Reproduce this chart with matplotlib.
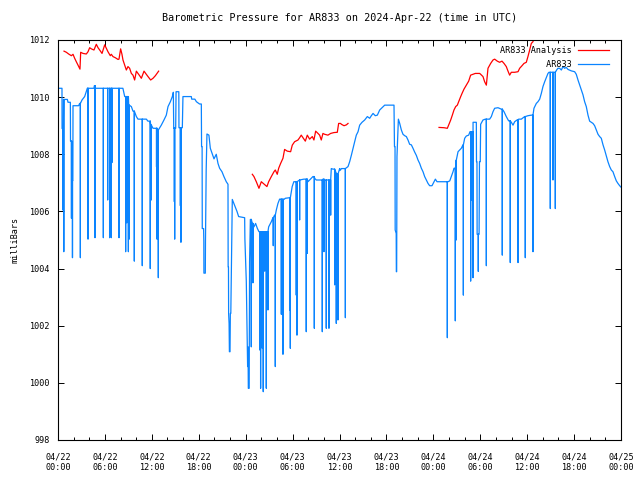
import numpy as np
import matplotlib
matplotlib.use("Agg")
import matplotlib.pyplot as plt

# time axis: hours since 2024-04-22 00:00 UTC
tick_hours = [0, 6, 12, 18, 24, 30, 36, 42, 48, 54, 60, 66, 72]
tick_labels = ["04/22\n00:00", "04/22\n06:00", "04/22\n12:00", "04/22\n18:00",
               "04/23\n00:00", "04/23\n06:00", "04/23\n12:00", "04/23\n18:00",
               "04/24\n00:00", "04/24\n06:00", "04/24\n12:00", "04/24\n18:00",
               "04/25\n00:00"]
y_ticks = [998, 1000, 1002, 1004, 1006, 1008, 1010, 1012]

# AR833 station pressure (hour, mbar) - slowly varying level
station_level = [
    (0.0, 1010.31), (0.51, 1010.31), (0.52, 1008.9), (0.68, 1008.9), (0.7, 1009.92),
    (1.2, 1009.92), (1.28, 1009.82), (1.58, 1009.82), (1.6, 1008.46), (1.75, 1008.46),
    (1.77, 1007.08), (1.9, 1007.08), (1.92, 1009.70), (2.64, 1009.70), (2.77, 1009.78),
    (3.07, 1009.9), (3.41, 1010.02), (3.75, 1010.31), (4.6, 1010.31), (4.65, 1010.40),
    (4.75, 1010.40), (4.8, 1010.31), (8.3, 1010.31), (8.53, 1010.02), (9.04, 1009.72),
    (9.38, 1009.67), (9.59, 1009.51), (10.02, 1009.32), (10.23, 1009.23), (11.3, 1009.23),
    (11.5, 1009.16), (11.85, 1009.02), (12.15, 1008.91), (12.66, 1008.91), (12.79, 1008.85),
    (13.21, 1009.02), (13.55, 1009.2), (13.85, 1009.37), (14.07, 1009.67), (14.37, 1009.84),
    (14.62, 1010.02), (14.75, 1010.17), (14.8, 1008.91), (15.05, 1008.91), (15.1, 1010.19),
    (15.45, 1010.19), (15.47, 1008.93), (15.9, 1008.93), (15.98, 1010.02), (17.05, 1010.02),
    (17.1, 1009.93), (17.5, 1009.93), (17.7, 1009.84), (18.1, 1009.76), (18.33, 1009.76),
    (18.36, 1008.27), (18.43, 1008.27), (18.45, 1005.4), (18.62, 1005.4), (18.65, 1004.95),
    (18.66, 1003.84), (18.84, 1003.84), (18.86, 1004.95), (18.95, 1007.45), (19.05, 1008.71),
    (19.3, 1008.67), (19.48, 1008.21), (19.7, 1008.04), (19.95, 1007.84), (20.24, 1008.0),
    (20.46, 1007.68), (20.67, 1007.51), (20.97, 1007.39), (21.22, 1007.22), (21.52, 1007.04),
    (21.74, 1006.95), (21.76, 1004.06), (21.8, 1004.06), (21.82, 1002.43), (21.88, 1002.08),
    (21.92, 1001.09), (22.0, 1001.09), (22.04, 1002.43), (22.1, 1002.43), (22.29, 1006.42),
    (22.6, 1006.2), (22.89, 1006.0), (23.1, 1005.82), (23.87, 1005.78), (23.9, 1005.04),
    (24.08, 1003.56), (24.16, 1002.08), (24.25, 1000.57), (24.3, 1001.26), (24.34, 999.81),
    (24.45, 999.81), (24.5, 1004.24), (24.6, 1005.72), (24.85, 1005.58), (25.06, 1005.46),
    (25.27, 1005.58), (25.49, 1005.41), (25.7, 1005.29), (26.64, 1005.29), (26.94, 1005.46),
    (27.28, 1005.64), (27.49, 1005.78), (27.7, 1005.87), (27.92, 1006.05), (28.13, 1006.28),
    (28.34, 1006.43), (28.9, 1006.42), (29.07, 1006.46), (29.54, 1006.48), (29.95, 1006.87),
    (30.16, 1007.04), (30.47, 1007.04), (30.9, 1007.1), (31.45, 1007.13), (31.75, 1007.13),
    (31.97, 1007.04), (32.6, 1007.22), (32.82, 1007.16), (33.03, 1007.1), (33.88, 1007.13),
    (34.1, 1007.1), (34.95, 1007.5), (35.16, 1007.48), (35.59, 1007.33), (35.8, 1007.3),
    (36.02, 1007.5), (36.1, 1007.44), (36.24, 1007.5), (37.09, 1007.57), (37.3, 1007.74),
    (37.52, 1007.97), (37.73, 1008.21), (37.94, 1008.44), (38.15, 1008.67), (38.37, 1008.79),
    (38.58, 1009.02), (38.88, 1009.12), (39.22, 1009.2), (39.56, 1009.32), (39.86, 1009.26),
    (40.07, 1009.35), (40.29, 1009.43), (40.58, 1009.35), (40.84, 1009.37), (41.14, 1009.55),
    (41.44, 1009.63), (41.78, 1009.72), (42.97, 1009.72), (43.03, 1008.27), (43.1, 1008.27),
    (43.12, 1005.35), (43.25, 1005.23), (43.27, 1003.89), (43.31, 1003.89), (43.35, 1007.92),
    (43.53, 1009.23), (43.7, 1009.08), (43.91, 1008.85), (44.12, 1008.7), (44.34, 1008.65),
    (44.55, 1008.62), (44.76, 1008.5), (44.97, 1008.35), (45.19, 1008.33), (45.4, 1008.21),
    (45.61, 1008.08), (45.83, 1007.96), (46.04, 1007.8), (46.25, 1007.68), (46.47, 1007.51),
    (46.68, 1007.39), (46.89, 1007.22), (47.1, 1007.1), (47.32, 1006.98), (47.53, 1006.9),
    (47.83, 1006.9), (48.09, 1007.04), (48.26, 1007.13), (48.47, 1007.04), (49.88, 1007.04),
    (50.1, 1007.07), (50.3, 1007.22), (50.52, 1007.39), (50.64, 1007.51), (50.82, 1007.51),
    (50.94, 1007.8), (51.16, 1008.09), (51.37, 1008.15), (51.58, 1008.21), (51.79, 1008.33),
    (52.01, 1008.56), (52.22, 1008.64), (52.52, 1008.67), (52.69, 1008.79), (53.0, 1008.79),
    (53.08, 1009.12), (53.5, 1009.12), (53.52, 1007.74), (53.58, 1007.74), (53.6, 1005.2),
    (53.85, 1005.2), (53.9, 1007.74), (54.0, 1007.74), (54.05, 1009.05), (54.35, 1009.2),
    (54.65, 1009.23), (55.2, 1009.23), (55.42, 1009.32), (55.63, 1009.49), (55.84, 1009.61),
    (56.27, 1009.63), (56.69, 1009.58), (57.04, 1009.49), (57.33, 1009.32), (57.63, 1009.17),
    (57.97, 1009.12), (58.19, 1009.02), (58.4, 1009.14), (58.7, 1009.2), (58.91, 1009.23),
    (59.25, 1009.23), (59.68, 1009.32), (60.1, 1009.35), (60.53, 1009.37), (60.87, 1009.61),
    (61.17, 1009.78), (61.38, 1009.84), (61.6, 1009.93), (61.81, 1010.13), (62.02, 1010.37),
    (62.24, 1010.54), (62.45, 1010.68), (62.66, 1010.83), (62.79, 1010.87), (63.3, 1010.87),
    (63.77, 1010.95), (63.94, 1011.01), (64.15, 1011.01), (64.37, 1010.95), (64.58, 1011.07),
    (64.79, 1011.01), (65.0, 1011.04), (65.22, 1010.97), (65.64, 1010.92), (66.07, 1010.89),
    (66.28, 1010.8), (66.5, 1010.6), (66.71, 1010.43), (66.92, 1010.25), (67.14, 1010.08),
    (67.35, 1009.84), (67.56, 1009.67), (67.78, 1009.37), (67.99, 1009.16), (68.2, 1009.12),
    (68.42, 1009.08), (68.63, 1009.0), (68.84, 1008.85), (69.06, 1008.7), (69.27, 1008.62),
    (69.48, 1008.56), (69.7, 1008.33), (69.91, 1008.15), (70.12, 1007.95), (70.33, 1007.74),
    (70.55, 1007.57), (70.76, 1007.45), (70.97, 1007.39), (71.19, 1007.22), (71.4, 1007.07),
    (71.61, 1006.98), (71.83, 1006.9), (72.0, 1006.85),
]

# short dropouts in the station record (hour, lowest mbar)
station_drops = [
    (0.6, 1006.05), (0.74, 1004.59), (1.72, 1005.76), (1.85, 1004.38), (2.86, 1004.38),
    (3.8, 1006.34), (3.84, 1005.03), (4.73, 1005.08), (5.8, 1005.08), (6.35, 1006.4),
    (6.6, 1005.08), (6.82, 1005.08), (6.9, 1007.71), (7.8, 1005.08), (8.65, 1004.59),
    (8.8, 1005.6), (9.0, 1004.59), (9.1, 1005.03), (9.76, 1004.26), (10.78, 1004.1),
    (11.8, 1004.0), (11.94, 1006.4), (12.6, 1007.56), (12.66, 1005.03), (12.83, 1003.68),
    (14.88, 1006.34), (14.92, 1005.03), (15.65, 1006.2), (15.72, 1004.92),
    (24.72, 1001.26), (24.93, 1003.5), (25.79, 1001.15), (25.91, 999.81), (26.13, 1001.21),
    (26.25, 999.69), (26.43, 1003.91), (26.64, 999.81), (26.85, 1002.55), (27.53, 1004.8),
    (27.79, 1000.57), (28.56, 1002.4), (28.77, 1001.0), (29.62, 1002.55), (29.71, 1001.21),
    (30.47, 1003.07), (30.56, 1001.67), (30.9, 1005.7), (31.75, 1001.79), (31.88, 1004.53),
    (32.78, 1001.91), (33.8, 1001.79), (34.01, 1004.59), (34.31, 1001.91), (34.65, 1001.91),
    (34.87, 1005.87), (35.38, 1003.43), (35.59, 1002.08), (35.8, 1002.2), (36.75, 1002.28),
    (49.79, 1001.58), (50.81, 1002.17), (50.94, 1005.0), (51.84, 1003.07), (52.77, 1003.56),
    (52.86, 1006.4), (53.07, 1003.68), (53.75, 1003.9), (54.78, 1004.1), (56.82, 1004.47),
    (57.84, 1004.21), (58.83, 1004.21), (59.76, 1004.38), (60.74, 1004.59), (62.96, 1006.1),
    (63.3, 1007.1), (63.6, 1006.1),
]

# AR833 Analysis (hour, mbar), three separate runs
analysis_runs = [
    [(0.77, 1011.61), (1.07, 1011.57), (1.36, 1011.51), (1.71, 1011.45), (1.92, 1011.5),
     (2.13, 1011.36), (2.34, 1011.24), (2.56, 1011.12), (2.81, 1010.98), (2.9, 1011.57),
     (3.2, 1011.53), (3.62, 1011.51), (3.84, 1011.59), (4.05, 1011.73), (4.26, 1011.69),
     (4.6, 1011.65), (4.9, 1011.85), (5.12, 1011.73), (5.33, 1011.65), (5.63, 1011.53),
     (5.97, 1011.83), (6.18, 1011.71), (6.39, 1011.59), (6.69, 1011.45), (6.82, 1011.5),
     (7.03, 1011.42), (7.33, 1011.38), (7.67, 1011.32), (7.8, 1011.33), (8.01, 1011.69),
     (8.18, 1011.5), (8.31, 1011.3), (8.53, 1011.12), (8.74, 1010.95), (8.95, 1011.07),
     (9.16, 1011.01), (9.38, 1010.83), (9.59, 1010.77), (9.8, 1010.6), (10.02, 1010.91),
     (10.23, 1010.83), (10.44, 1010.75), (10.66, 1010.66), (11.0, 1010.91), (11.21, 1010.83),
     (11.51, 1010.72), (11.85, 1010.6), (12.15, 1010.66), (12.45, 1010.75), (12.87, 1010.91)],
    [(24.85, 1007.3), (25.06, 1007.22), (25.36, 1007.04), (25.7, 1006.81), (26.0, 1007.04),
     (26.34, 1006.96), (26.72, 1006.87), (26.94, 1007.04), (27.28, 1007.22), (27.62, 1007.39),
     (27.79, 1007.45), (28.04, 1007.3), (28.22, 1007.51), (28.47, 1007.68), (28.77, 1007.86),
     (28.98, 1008.17), (29.32, 1008.11), (29.75, 1008.09), (29.96, 1008.32), (30.26, 1008.44),
     (30.69, 1008.5), (30.9, 1008.58), (31.11, 1008.67), (31.33, 1008.58), (31.63, 1008.46),
     (31.88, 1008.67), (32.18, 1008.53), (32.52, 1008.62), (32.73, 1008.5), (32.95, 1008.81),
     (33.25, 1008.73), (33.46, 1008.67), (33.67, 1008.5), (33.88, 1008.73), (34.1, 1008.7),
     (34.52, 1008.67), (34.87, 1008.73), (35.29, 1008.76), (35.72, 1008.77), (35.89, 1009.08),
     (36.14, 1009.08), (36.24, 1009.05), (36.58, 1009.0), (36.88, 1009.03), (37.09, 1009.08)],
    [(48.73, 1008.94), (49.36, 1008.93), (49.79, 1008.91), (50.0, 1009.05), (50.22, 1009.2),
     (50.43, 1009.37), (50.64, 1009.55), (50.86, 1009.67), (51.07, 1009.72), (51.24, 1009.84),
     (51.5, 1010.02), (51.67, 1010.13), (51.92, 1010.28), (52.22, 1010.42), (52.52, 1010.56),
     (52.77, 1010.77), (53.07, 1010.8), (53.37, 1010.83), (53.93, 1010.83), (54.05, 1010.8),
     (54.35, 1010.72), (54.56, 1010.54), (54.78, 1010.42), (54.99, 1011.01), (55.33, 1011.18),
     (55.63, 1011.3), (55.84, 1011.33), (56.18, 1011.26), (56.48, 1011.22), (56.78, 1011.26),
     (57.04, 1011.18), (57.33, 1011.07), (57.55, 1010.91), (57.76, 1010.77), (57.97, 1010.87),
     (58.4, 1010.87), (58.83, 1010.89), (59.04, 1011.01), (59.34, 1011.1), (59.59, 1011.18),
     (59.89, 1011.22), (60.1, 1011.42), (60.32, 1011.65), (60.53, 1011.88), (60.74, 1011.94),
     (60.96, 1012.12)],
]


def station_series():
    """Merge the level record with the dropouts (hold last level, drop, come back)."""
    pts = list(station_level)
    level_t = [t for t, _ in station_level]
    for t, low in station_drops:
        i = max(0, np.searchsorted(level_t, t, side="right") - 1)
        held = station_level[i][1]
        pts += [(t, held), (t + 0.001, low), (t + 0.002, held)]
    pts.sort(key=lambda p: p[0])
    return np.array(pts)


plt.rcParams["font.family"] = ["DejaVu Sans Mono"]
plt.rcParams["font.size"] = 6.1

fig = plt.figure(figsize=(6.4, 4.8), dpi=100)
ax = fig.add_axes([58 / 640, 40 / 480, 563 / 640, 400 / 480])

red = "#ff0000"
blue = "#0a84ff"

for k, run in enumerate(analysis_runs):
    a = np.array(run)
    ax.plot(a[:, 0], a[:, 1], color=red, lw=0.9,
            label="AR833 Analysis" if k == 0 else None)

s = station_series()
ax.plot(s[:, 0], s[:, 1], color=blue, lw=0.9, label="         AR833")

ax.set_xlim(0, 72)
ax.set_ylim(998, 1012)
ax.set_xticks(tick_hours)
ax.set_xticklabels(tick_labels)
ax.set_xticks(np.arange(0, 73, 2), minor=True)
ax.set_yticks(y_ticks)
ax.tick_params(direction="in", top=True, right=True, length=4, width=0.7, pad=6)
ax.tick_params(which="minor", direction="in", top=True, length=2.2, width=0.7)
ax.tick_params(axis="x", pad=9)
for sp in ax.spines.values():
    sp.set_linewidth(0.8)

ax.set_ylabel("milliBars", labelpad=7)
ax.set_title("Barometric Pressure for AR833 on 2024-Apr-22 (time in UTC)", pad=14)

ax.legend(loc="upper right", bbox_to_anchor=(0.979, 0.986), borderaxespad=0,
          borderpad=0, frameon=False, markerfirst=False, handlelength=3.7,
          handletextpad=0.7, labelspacing=0.6)

fig.savefig("out.png", dpi=100)
